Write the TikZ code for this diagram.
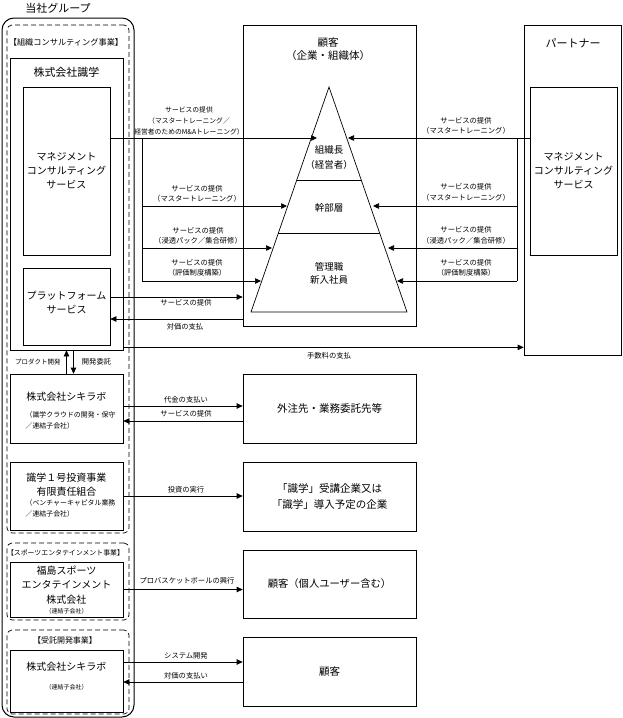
\documentclass[tikz,border=0pt]{standalone}
\usepackage{fontspec}
\setmainfont{Noto Sans CJK JP}
\usetikzlibrary{arrows.meta,calc}

\begin{document}
\begin{tikzpicture}[x=1pt, y=-1pt, line width=0.7pt,
  box/.style={draw, rectangle, inner sep=0pt},
  bizbox/.style={draw, dash pattern=on 5pt off 3pt, rounded corners=5pt, inner sep=0pt},
  arr/.style={-{Triangle[length=6pt, width=5.5pt]}},
  big/.style={font=\fontsize{10}{14}\selectfont, align=center},
  lbl/.style={font=\fontsize{7.3}{10.5}\selectfont, align=center},
  sml/.style={font=\fontsize{6.9}{11}\selectfont, align=left}]
\useasboundingbox (0,0) rectangle (623,718);

% group side
\node[draw, rounded corners=12pt, line width=1pt, inner sep=0pt, minimum width=132pt, minimum height=699pt] (grp) at (68,367.5){};
\node[font=\fontsize{11}{13}\selectfont] (grpT) at (58,8){当社グループ};
\node[bizbox, minimum width=122pt, minimum height=508pt] (biz1) at (68,279){};
\node[bizbox, minimum width=122pt, minimum height=77pt] (biz2) at (68,581.5){};
\node[bizbox, minimum width=122pt, minimum height=84pt] (biz3) at (68,672){};
\node[font=\fontsize{8.2}{10}\selectfont] (biz1T) at (66,42){【組織コンサルティング事業】};
\node[font=\fontsize{6.9}{10}\selectfont] (biz2T) at (65.5,553){【スポーツエンタテインメント事業】};
\node[font=\fontsize{8}{10}\selectfont] (biz3T) at (65,640){【受託開発事業】};

\node[box, minimum width=113pt, minimum height=292pt] (shiki) at (66.5,204){};
\node[font=\fontsize{11}{13}\selectfont] (shikiT) at (66.5,72){株式会社識学};
\node[box, big, minimum width=87pt, minimum height=168pt] (mcs) at (66.5,171){マネジメント\\コンサルティング\\サービス};
\node[box, minimum width=87pt, minimum height=77pt] (pf) at (66.5,306.5){};
\node[big] (pfT) at (66.5,302.5){プラットフォーム\\サービス};

\node[box, minimum width=113pt, minimum height=69pt] (lab) at (66.5,408.5){};
\node[big] (labT) at (66.5,397){株式会社シキラボ};
\node[sml, anchor=west] (labS) at (22,420.5){（識学クラウドの開発・保守\\／連結子会社）};
\node[box, minimum width=113pt, minimum height=68pt] (fund) at (66.5,496){};
\node[big] (fundT) at (66.5,485){識学１号投資事業\\有限責任組合};
\node[sml, anchor=west] (fundS) at (22,508.5){（ベンチャーキャピタル業務\\／連結子会社）};
\node[box, minimum width=113pt, minimum height=55pt] (fuku) at (66.5,589.5){};
\node[big, font=\fontsize{10}{14.3}\selectfont] (fukuT) at (66.5,585){福島スポーツ\\エンタテインメント\\株式会社};
\node[font=\fontsize{6}{8}\selectfont] (fukuS) at (66.5,611){（連結子会社）};
\node[box, minimum width=113pt, minimum height=62pt] (lab2) at (66.5,681){};
\node[big] (lab2T) at (66.5,667){株式会社シキラボ};
\node[font=\fontsize{6}{8}\selectfont] (lab2S) at (66.5,687){（連結子会社）};

% customers and partner
\node[box, minimum width=173pt, minimum height=301pt] (cust) at (329.5,175.5){};
\node[font=\fontsize{10.5}{13}\selectfont, align=center] (custT) at (328,49){顧客\\（企業・組織体）};
\node[box, minimum width=97pt, minimum height=330pt] (ptn) at (572.5,190){};
\node[font=\fontsize{11}{13}\selectfont] (ptnT) at (573,43){パートナー};
\node[box, big, minimum width=87pt, minimum height=168pt] (pmcs) at (573.5,171){マネジメント\\コンサルティング\\サービス};

\node[box, font=\fontsize{10.5}{13}\selectfont, minimum width=173pt, minimum height=69pt] (outs) at (329.5,408.5){外注先・業務委託先等};
\node[box, font=\fontsize{10.5}{15.5}\selectfont, align=center, minimum width=173pt, minimum height=69pt] (inv) at (329.5,496.5){「識学」受講企業又は\\「識学」導入予定の企業};
\node[box, font=\fontsize{10.3}{13}\selectfont, minimum width=173pt, minimum height=68pt] (cust2) at (329.5,584){顧客（個人ユーザー含む）};
\node[box, font=\fontsize{10.5}{13}\selectfont, minimum width=173pt, minimum height=69pt] (cust3) at (329.5,671.5){顧客};

% pyramid
\coordinate (apex) at (329,87);
\coordinate (pyBL) at (251,312);
\coordinate (pyBR) at (407,312);
\draw (apex) -- (pyBR) -- (pyBL) -- cycle;
\draw ($(apex)!0.413!(pyBL)$) -- ($(apex)!0.413!(pyBR)$);
\draw ($(apex)!0.649!(pyBL)$) -- ($(apex)!0.649!(pyBR)$);
\node[font=\fontsize{9.5}{15}\selectfont, align=center] (lv1) at (329,157.5){組織長\\（経営者）};
\node[font=\fontsize{9.5}{13}\selectfont] (lv2) at (329,208){幹部層};
\node[font=\fontsize{9.5}{13.5}\selectfont, align=center] (lv3) at (329,273.5){管理職\\新入社員};

\coordinate (pL1) at (317,138);
\coordinate (pL2) at (287,206);
\coordinate (pL3) at (272,248);
\coordinate (pL4) at (261,281);
\coordinate (pR1) at (348,138);
\coordinate (pR2) at (373,206);
\coordinate (pR3) at (388,248);
\coordinate (pR4) at (397,281);
\coordinate (brL) at (142,138);
\coordinate (brR) at (517,138);

% services to the pyramid
\draw[arr] (mcs.east |- pL1) -- (pL1);
\draw (brL) -- (brL |- pL4);
\foreach \p in {pL2,pL3,pL4} \draw[arr] (brL |- \p) -- (\p);
\draw[arr] (pmcs.west |- pR1) -- (pR1);
\draw (brR) -- (brR |- pR4);
\foreach \p in {pR2,pR3,pR4} \draw[arr] (brR |- \p) -- (\p);

\node[lbl, font=\fontsize{6.8}{10.8}\selectfont] (sL1) at (189,121){サービスの提供\\（マスタートレーニング／\\経営者のためのM\&Aトレーニング）};
\node[lbl] (sL2) at (197,194){サービスの提供\\（マスタートレーニング）};
\node[lbl] (sL3) at (198,236){サービスの提供\\（浸透パック／集合研修）};
\node[lbl] (sL4) at (197,268){サービスの提供\\（評価制度構築）};
\node[lbl] (sR1) at (466,126){サービスの提供\\（マスタートレーニング）};
\node[lbl] (sR2) at (466,192.5){サービスの提供\\（マスタートレーニング）};
\node[lbl] (sR3) at (466,235.5){サービスの提供\\（浸透パック／集合研修）};
\node[lbl] (sR4) at (466,268){サービスの提供\\（評価制度構築）};

% money and other flows
\draw[arr] ([yshift=9.5pt]pf.east) -- ([yshift=9.5pt]pf.east -| cust.west);
\draw[arr] ([yshift=-12.5pt]pf.east -| cust.west) -- ([yshift=-12.5pt]pf.east);
\node[lbl] (pf1) at (186,303){サービスの提供};
\node[lbl] (pf2) at (185,327){対価の支払};
\draw[arr] ([yshift=3pt]shiki.south east) -- ([yshift=3pt]shiki.south east -| ptn.west);
\node[lbl] (fee) at (329,356){手数料の支払};

\draw[arr] (lab.north) -- (lab.north |- shiki.south);
\draw[arr] ([xshift=7pt]shiki.south) -- ([xshift=7pt]shiki.south |- lab.north);
\node[font=\fontsize{6.5}{8}\selectfont] (devA) at (38,362){プロダクト開発};
\node[font=\fontsize{7.3}{8}\selectfont] (devB) at (96.5,362){開発委託};

\draw[arr] ([yshift=2.5pt]lab.east) -- ([yshift=2.5pt]lab.east -| outs.west);
\draw[arr] ([yshift=-12.5pt]lab.east -| outs.west) -- ([yshift=-12.5pt]lab.east);
\node[lbl] (lb1) at (186,400){代金の支払い};
\node[lbl] (lb2) at (186,414){サービスの提供};
\draw[arr] (fund.east) -- (fund.east -| inv.west);
\node[lbl] (fd1) at (186,490){投資の実行};
\draw[arr] (fuku.east) -- (fuku.east -| cust2.west);
\node[lbl] (fk1) at (187,581){プロバスケットボールの興行};
\draw[arr] ([yshift=19pt]lab2.east) -- ([yshift=19pt]lab2.east -| cust3.west);
\draw[arr] ([yshift=-1pt]lab2.east -| cust3.west) -- ([yshift=-1pt]lab2.east);
\node[lbl] (lc1) at (186,656){システム開発};
\node[lbl] (lc2) at (186,676){対価の支払い};
\end{tikzpicture}
\end{document}
